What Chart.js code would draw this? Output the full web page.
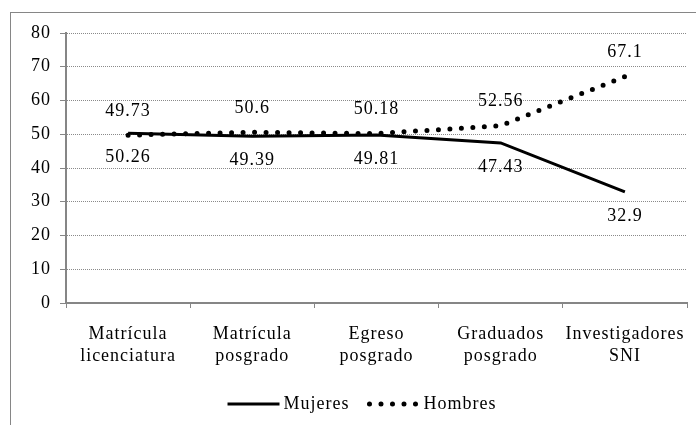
<!DOCTYPE html>
<html>
<head>
<meta charset="utf-8">
<script src="https://cdn.jsdelivr.net/npm/chart.js@4/dist/chart.umd.min.js"></script>
<style>
  body { margin: 0; background: #fff; }
  #wrap { position: relative; width: 696px; height: 425px; overflow: hidden; }
  #frame { position: absolute; left: 10px; top: 12px; width: 700px; height: 430px; border: 1px solid #868686; box-sizing: border-box; }
  canvas { position: absolute; left: 0; top: 0; }
</style>
</head>
<body>
<div id="wrap">
  <div id="frame"></div>
  <canvas id="chart" width="696" height="425"></canvas>
</div>
<script>
// categories
const categories = [
    ['Matrícula', 'licenciatura'],
    ['Matrícula', 'posgrado'],
    ['Egreso', 'posgrado'],
    ['Graduados', 'posgrado'],
    ['Investigadores', 'SNI']
];
// series values
const mujeres = [50.26, 49.39, 49.81, 47.43, 32.9];
const hombres = [49.73, 50.6, 50.18, 52.56, 67.1];

const serif = "'Liberation Serif', 'Times New Roman', serif";

// the original text is set a bit loose
const spacing = {
    id: 'spacing',
    beforeDraw(chart) {
        chart.ctx.letterSpacing = '1px';
    }
};

// value labels: hombres above, mujeres below
const valueLabels = {
    id: 'valueLabels',
    afterDatasetsDraw(chart) {
        const ctx = chart.ctx;
        ctx.save();
        ctx.font = '18px ' + serif;
        ctx.fillStyle = '#000';
        ctx.textAlign = 'center';
        ctx.textBaseline = 'middle';
        chart.data.datasets.forEach((ds, i) => {
            const meta = chart.getDatasetMeta(i);
            meta.data.forEach((pt, j) => {
                const dy = ds.label === 'Hombres' ? -24 : 24;
                ctx.fillText(String(ds.data[j]), pt.x, pt.y + dy);
            });
        });
        ctx.restore();
    }
};

// legend at the bottom with line samples
const bottomLegend = {
    id: 'bottomLegend',
    afterDraw(chart) {
        const ctx = chart.ctx;
        ctx.save();
        ctx.font = '18px ' + serif;
        ctx.textBaseline = 'middle';
        ctx.fillStyle = '#000';
        const y = 404;
        const sample = 52;
        const items = chart.data.datasets;
        let widths = items.map(ds => sample + 4 + ctx.measureText(ds.label).width);
        const gap = 18;
        let total = widths.reduce((a, b) => a + b, 0) + gap * (items.length - 1);
        let x = 362 - total / 2;
        items.forEach((ds, i) => {
            ctx.beginPath();
            ctx.strokeStyle = ds.borderColor;
            ctx.lineWidth = ds.borderWidth;
            ctx.lineCap = ds.borderCapStyle || 'butt';
            ctx.setLineDash(ds.borderDash || []);
            ctx.moveTo(x + (ds.borderDash ? 2 : 0), y);
            ctx.lineTo(x + sample, y);
            ctx.stroke();
            ctx.setLineDash([]);
            ctx.fillText(ds.label, x + sample + 4, y);
            x += widths[i] + gap;
        });
        ctx.restore();
    }
};

new Chart(document.getElementById('chart').getContext('2d'), {
    type: 'line',
    data: {
        labels: categories,
        datasets: [
            {
                label: 'Mujeres',
                data: mujeres,
                borderColor: '#000',
                borderWidth: 3,
                pointRadius: 0,
                tension: 0
            },
            {
                label: 'Hombres',
                data: hombres,
                borderColor: '#000',
                borderWidth: 5,
                borderDash: [0, 11.5],
                borderCapStyle: 'round',
                pointRadius: 0,
                tension: 0
            }
        ]
    },
    options: {
        responsive: false,
        animation: false,
        layout: { padding: { top: 33, right: 9, left: 0, bottom: 0 } },
        plugins: {
            legend: { display: false },
            tooltip: { enabled: false }
        },
        scales: {
            x: {
                offset: true,
                afterFit: s => { s.height = 122; },
                grid: {
                    offset: true,
                    drawOnChartArea: false,
                    tickLength: 5,
                    color: '#868686'
                },
                border: { color: '#868686', width: 2 },
                ticks: {
                    color: '#000',
                    padding: 15,
                    font: { family: serif, size: 18, lineHeight: '22px' },
                    maxRotation: 0
                }
            },
            y: {
                min: 0,
                max: 80,
                afterFit: s => { s.width = 66; },
                grid: {
                    color: '#8a8a8a',
                    tickLength: 6,
                    tickBorderDash: [0],
                    tickColor: '#868686'
                },
                border: { color: '#868686', width: 2, dash: [1, 1] },
                ticks: {
                    stepSize: 10,
                    color: '#000',
                    padding: 9,
                    font: { family: serif, size: 18 }
                }
            }
        }
    },
    plugins: [spacing, valueLabels, bottomLegend]
});
</script>
</body>
</html>
